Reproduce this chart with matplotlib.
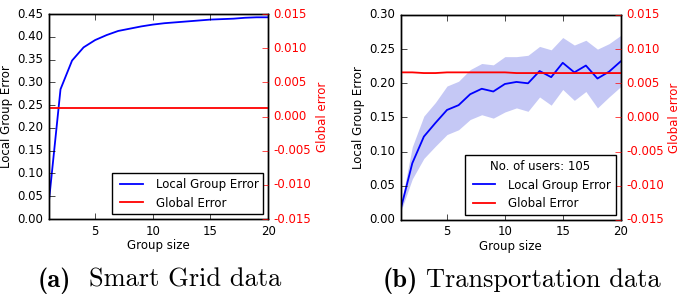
from matplotlib import pyplot as plt
import numpy as np

# group sizes
group_size = np.arange(1, 21)

# (a) Smart Grid data
sg_local = [0.040, 0.285, 0.348, 0.377, 0.393, 0.404, 0.413, 0.418, 0.423, 0.427,
            0.430, 0.432, 0.434, 0.436, 0.438, 0.439, 0.440, 0.442, 0.443, 0.443]
sg_global = [0.0012] * 20

# (b) Transportation data
tr_local = [0.016, 0.083, 0.122, 0.142, 0.161, 0.168, 0.184, 0.192, 0.188, 0.199,
            0.202, 0.200, 0.218, 0.209, 0.230, 0.216, 0.226, 0.207, 0.217, 0.232]
tr_upper = [0.020, 0.107, 0.152, 0.172, 0.196, 0.203, 0.220, 0.229, 0.227, 0.239,
            0.239, 0.241, 0.254, 0.249, 0.267, 0.256, 0.263, 0.250, 0.258, 0.270]
tr_lower = [0.012, 0.060, 0.090, 0.108, 0.125, 0.132, 0.147, 0.154, 0.149, 0.158,
            0.164, 0.159, 0.180, 0.168, 0.191, 0.175, 0.188, 0.164, 0.180, 0.195]
tr_global = [0.0066, 0.0066, 0.0065, 0.0065, 0.0066, 0.0066, 0.0066, 0.0066, 0.0066, 0.0066,
             0.0065, 0.0065, 0.0065, 0.0065, 0.0065, 0.0065, 0.0065, 0.0065, 0.0065, 0.0065]

plt.style.use('classic')
plt.rcParams['font.family'] = 'DejaVu Sans'
plt.rcParams['font.size'] = 8.5
plt.rcParams['figure.facecolor'] = 'white'

fig = plt.figure(figsize=(6.85, 2.94), dpi=100)


def panel(rect, local, glob, ylim, yticks, band=None, title=None):
    ax = fig.add_axes(rect)
    if band is not None:
        ax.fill_between(group_size, band[0], band[1], color='#c5c8f5', linewidth=0)
    l1, = ax.plot(group_size, local, color='blue', lw=1.3, label='Local Group Error')
    ax.set_xlim(1, 20)
    ax.set_ylim(*ylim)
    ax.set_yticks(yticks)
    ax.set_xticks([5, 10, 15, 20])
    ax.set_xlabel('Group size', labelpad=1)
    ax.set_ylabel('Local Group Error', labelpad=3)
    ax2 = ax.twinx()
    l2, = ax2.plot(group_size, glob, color='red', lw=1.3, label='Global Error')
    ax2.set_ylim(-0.015, 0.015)
    rt = np.arange(-0.015, 0.0151, 0.005)
    ax2.set_yticks(rt)
    ax2.set_yticklabels(['%.3f' % v if abs(v) > 1e-9 else '0.000' for v in rt])
    ax2.set_ylabel('Global error', color='red', labelpad=3)
    ax2.tick_params(axis='y', colors='red')
    ax2.set_xlim(1, 20)
    leg = ax2.legend([l1, l2], ['Local Group Error', 'Global Error'], loc='lower right',
                     fontsize=8.5, title=title, handlelength=2.5, borderaxespad=0.4,
                     fancybox=False)
    if title:
        leg.get_title().set_fontsize(8.5)
    return ax


panel([0.0715, 0.255, 0.32, 0.697], sg_local, sg_global, (0, 0.45),
      np.arange(0, 0.451, 0.05))
panel([0.585, 0.252, 0.321, 0.697], tr_local, tr_global, (0, 0.30),
      np.arange(0, 0.301, 0.05), band=(tr_lower, tr_upper), title='No. of users: 105')

# captions
cap = 19
fig.text(0.055, 0.024, '(a)', family='cmb10', fontsize=cap, va='baseline')
fig.text(0.130, 0.024, 'Smart Grid data', family='cmr10', fontsize=cap, va='baseline')
fig.text(0.558, 0.024, '(b)', family='cmb10', fontsize=cap, va='baseline')
fig.text(0.622, 0.024, 'Transportation data', family='cmr10', fontsize=cap, va='baseline')

fig.savefig('out.png', dpi=100)
